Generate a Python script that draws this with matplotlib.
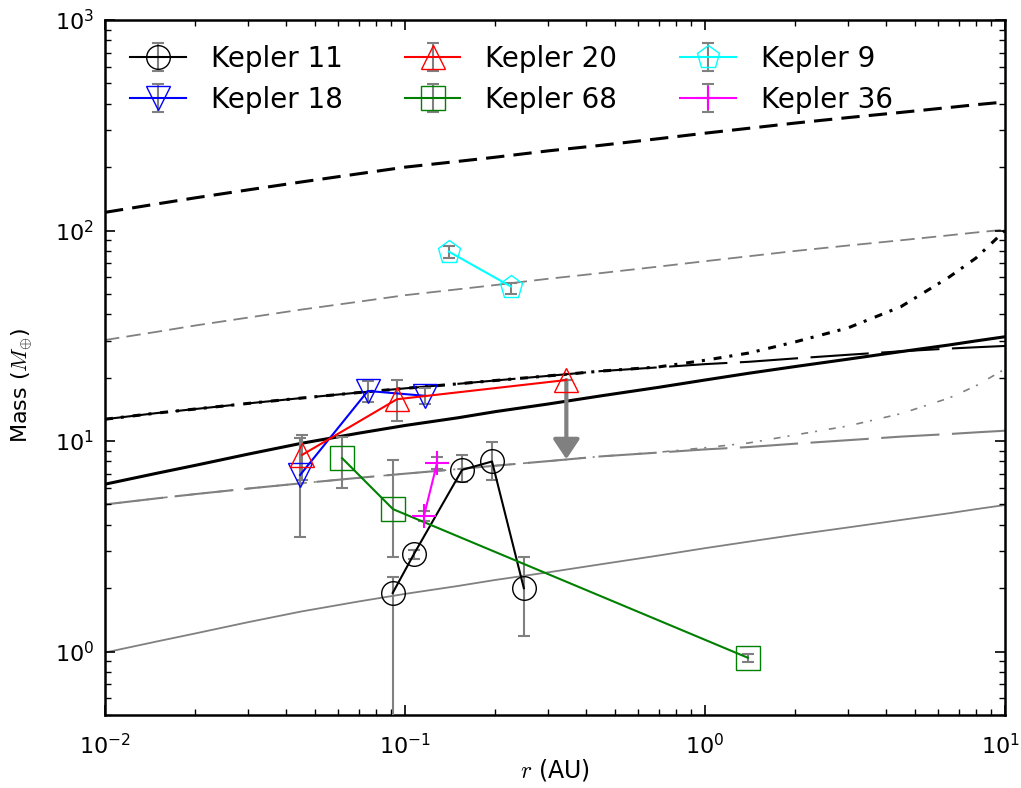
import matplotlib
matplotlib.use("Agg")
import matplotlib.pyplot as plt
from matplotlib.transforms import ScaledTranslation

plt.rcParams['font.family'] = 'DejaVu Sans'
plt.rcParams['mathtext.fontset'] = 'cm'

# model curves, r in AU, mass in Earth masses
r_grid = [0.01, 0.015, 0.02, 0.03, 0.045, 0.07, 0.1, 0.15, 0.2, 0.3, 0.45, 0.7,
          1.0, 1.4, 2.0, 3.0, 4.5, 6.5, 8.0, 10.0]
m_dash_black = [122, 134, 143, 156, 170, 186, 200, 213, 223, 239, 254, 273,
                290, 306, 324, 344, 364, 384, 396, 408]
m_dash_gray = [30.2, 33.1, 35.4, 38.6, 42.1, 45.9, 49.3, 52.6, 55.1, 59.0, 62.8, 67.4,
               71.5, 75.5, 80, 84.9, 89.9, 94.9, 97.9, 101]
m_solid_black = [6.24, 7.05, 7.67, 8.67, 9.75, 10.9, 11.86, 12.9, 13.8, 15.0, 16.4, 18.0,
                 19.5, 21.0, 22.6, 24.5, 26.6, 28.6, 29.9, 31.3]
m_solid_gray = [0.99, 1.12, 1.22, 1.38, 1.55, 1.73, 1.88, 2.05, 2.19, 2.38, 2.60, 2.86,
                3.10, 3.33, 3.59, 3.89, 4.22, 4.54, 4.75, 4.97]
m_long_black = [12.7, 13.6, 14.2, 15.1, 16.0, 17.0, 17.8, 18.7, 19.4, 20.4, 21.5, 22.4,
                23.2, 23.8, 24.7, 25.7, 26.7, 27.5, 27.9, 28.3]
m_dashdot_black = [12.7, 13.6, 14.2, 15.1, 16.0, 17.0, 17.8, 18.7, 19.4, 20.4, 21.5, 22.5,
                   24.2, 26.2, 29.6, 34.5, 43.5, 60.0, 74.0, 100]
m_long_gray = [5.0, 5.35, 5.6, 5.95, 6.3, 6.69, 7.0, 7.36, 7.64, 8.03, 8.46, 8.82,
               9.13, 9.37, 9.72, 10.1, 10.5, 10.8, 11.0, 11.2]
m_dashdot_gray = [5.0, 5.35, 5.6, 5.95, 6.3, 6.69, 7.0, 7.36, 7.64, 8.03, 8.46, 8.85,
                  9.3, 9.8, 10.7, 11.8, 13.5, 16.0, 18.3, 22.0]

# planets: semi-major axis, mass, lower / upper errors
k11_r = [0.091, 0.107, 0.155, 0.195, 0.249]
k11_m = [1.9, 2.9, 7.3, 8.0, 2.0]
k11_lo = [1.6, 0.15, 0.9, 1.5, 0.82]
k11_hi = [0.36, 0.15, 1.3, 1.9, 0.83]

k18_r = [0.0447, 0.0752, 0.117]
k18_m = [6.9, 17.3, 16.4]
k18_lo = [3.4, 1.9, 1.4]
k18_hi = [3.4, 1.9, 1.4]

k20_r = [0.0454, 0.094, 0.345]
k20_m = [8.6, 15.8, 19.5]
k20_lo = [2.1, 3.3, 0.0]
k20_hi = [2.1, 3.6, 0.0]
k20d_limit = [19.5, 8.2]   # arrow for the upper limit

k68_r = [0.0617, 0.0912, 1.39]
k68_m = [8.3, 4.75, 0.935]
k68_lo = [2.3, 1.95, 0.04]
k68_hi = [2.1, 3.4, 0.04]

k9_r = [0.140, 0.2256]
k9_m = [79.4, 54.2]
k9_lo = [5.0, 4.5]
k9_hi = [4.6, 2.3]

k36_r = [0.1156, 0.128]
k36_m = [4.4, 7.9]
k36_lo = [0.25, 0.5]
k36_hi = [0.25, 0.5]

fig = plt.figure(figsize=(10.21, 7.88), dpi=100)
ax = fig.add_axes([105/1021, 1-715/788, 900/1021, 695/788])

ax.plot(r_grid, m_dash_black, color='k', lw=2.2, dashes=[6, 3], zorder=1)
ax.plot(r_grid, m_dash_gray, color='gray', lw=1.3, dashes=[8, 4], zorder=1)
ax.plot(r_grid, m_solid_black, color='k', lw=2.2, zorder=1)
ax.plot(r_grid, m_solid_gray, color='gray', lw=1.3, zorder=1)
ax.plot(r_grid, m_long_black, color='k', lw=1.5, dashes=[28, 6], zorder=1)
ax.plot(r_grid, m_dashdot_black, color='k', lw=2.2, dashes=[2.6, 2.6, 1, 2.9], zorder=1)
ax.plot(r_grid, m_long_gray, color='gray', lw=1.5, dashes=[28, 6], zorder=1)
ax.plot(r_grid, m_dashdot_gray, color='gray', lw=1.2, dashes=[4.2, 4.2, 1.2, 7.2], zorder=1)

eb = dict(ecolor='gray', elinewidth=1.5, capsize=4, capthick=1.5, lw=1.5,
          ms=17, mfc='none', zorder=3)
ax.errorbar(k11_r, k11_m, yerr=[k11_lo, k11_hi], fmt='-o', color='black', mec='black',
            label='Kepler 11', **eb)
ax.errorbar(k18_r, k18_m, yerr=[k18_lo, k18_hi], fmt='-v', color='blue', mec='blue',
            label='Kepler 18', **eb)
ax.errorbar(k20_r, k20_m, yerr=[k20_lo, k20_hi], fmt='-^', color='red', mec='red',
            label='Kepler 20', **eb)
ax.errorbar(k68_r, k68_m, yerr=[k68_lo, k68_hi], fmt='-s', color='green', mec='green',
            label='Kepler 68', **eb)
ax.errorbar(k9_r, k9_m, yerr=[k9_lo, k9_hi], fmt='-p', color='cyan', mec='cyan',
            label='Kepler 9', **eb)
ax.errorbar(k36_r, k36_m, yerr=[k36_lo, k36_hi], fmt='-+', color='magenta', mec='magenta',
            mew=1.5, label='Kepler 36', **eb)

ax.annotate('', xy=(k20_r[2], k20d_limit[1]), xytext=(k20_r[2], k20d_limit[0]),
            arrowprops=dict(arrowstyle='-|>,head_length=0.6,head_width=0.4',
                            color='gray', lw=3, mutation_scale=20,
                            shrinkA=0, shrinkB=0), zorder=2)

ax.set_xscale('log')
ax.set_yscale('log')
ax.set_xlim(0.01, 10)
ax.set_ylim(0.5, 1000)
ax.set_xlabel('$r$ (AU)', fontsize=17, labelpad=-1)
ax.set_ylabel(r'Mass ($M_{\oplus}$)', fontsize=16)
ax.yaxis.set_label_coords(-0.078, 0.475)

ax.tick_params(which='both', direction='in', top=True, right=True, labelsize=16)
ax.tick_params(axis='x', which='both', pad=13)
ax.tick_params(axis='y', which='both', pad=8)
ax.tick_params(which='major', length=7, width=1.2)
ax.tick_params(which='minor', length=4, width=1.0)
for s in ax.spines.values():
    s.set_linewidth(1.8)

ax.legend(loc='upper left', ncol=3, frameon=False, fontsize=20, numpoints=1,
          handlelength=2.0, handletextpad=0.9, columnspacing=2.25, labelspacing=0.45)

# keep the 10^1 label inside the figure
fig.canvas.draw()
for lbl in ax.get_xticklabels():
    if abs(lbl.get_position()[0] - 10) < 1e-6:
        lbl.set_transform(lbl.get_transform() + ScaledTranslation(-5/100, 0, fig.dpi_scale_trans))

fig.savefig('out.png', dpi=100)
